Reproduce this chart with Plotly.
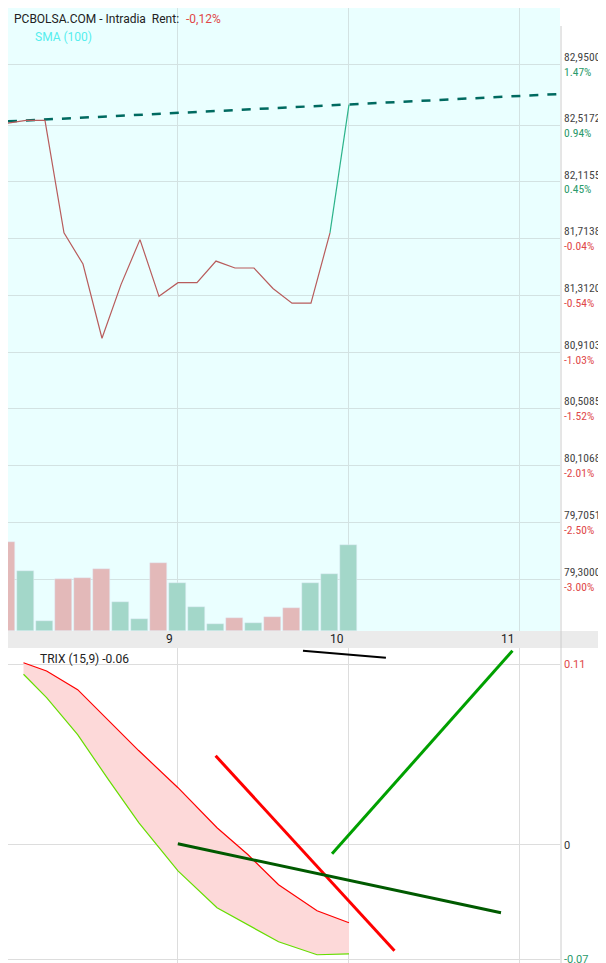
import plotly.graph_objects as go

# --- data (time in hours) ---
bar_times = [8 + i / 9 for i in range(19)]
price = [82.531, 82.552, 82.552, 81.755, 81.534, 81.008, 81.388, 81.707, 81.305, 81.402,
         81.402, 81.555, 81.506, 81.506, 81.361, 81.257, 81.257, 81.755, 82.663]
volume = [89, 60, 10, 52, 53, 62, 29, 12, 68, 48, 24, 7, 13, 8, 14, 23, 48, 57, 86]
vol_up = [0, 1, 1, 0, 0, 0, 1, 1, 0, 1, 1, 1, 0, 1, 0, 0, 1, 1, 1]
sma_x = [8.006, 11.234]
sma_y = [82.545, 82.739]

price_ticks = [82.95, 82.5172, 82.1155, 81.7138, 81.3120, 80.9103, 80.5085, 80.1068, 79.7051, 79.30]
pct_ticks = ["1.47%", "0.94%", "0.45%", "-0.04%", "-0.54%", "-1.03%", "-1.52%", "-2.01%", "-2.50%", "-3.00%"]

trix_min = [5.8, 13.9, 24.8, 35.6, 46.3, 60, 73.7, 84.6, 95.3, 108.8, 120]
trix = [0.111, 0.106, 0.0946, 0.0756, 0.0573, 0.0348, 0.0104, -0.0061, -0.0244, -0.0403, -0.0476]
trix_signal = [0.104, 0.0897, 0.0671, 0.0397, 0.0134, -0.0159, -0.0384, -0.0488, -0.0592, -0.0671, -0.0665]

# drawn trend lines: (x0, x1) hours, (y0, y1) trix units, colour, width
trend_lines = [
    ([9.731, 10.216], [0.1183, 0.114], "black", 2),
    ([9.220, 10.266], [0.0543, -0.0647], "#ff0000", 3),
    ([9.901, 10.956], [-0.0055, 0.1183], "#00a000", 3),
    ([8.999, 10.889], [0.0006, -0.0415], "#005a00", 3),
]

W, H = 606, 963
xr = [8.006, 11.234]
xdom = [0, 552 / W]
top_dom = [1 - 623 / H, 1]
bot_dom = [0, 1 - 640 / H]

fig = go.Figure()

# volume bars
fig.add_trace(go.Bar(
    x=bar_times, y=volume, width=17 / 171,
    marker_color=["#a3d7c9" if u else "#e3b9b9" for u in vol_up],
    yaxis="y3", xaxis="x", showlegend=False))

# SMA
fig.add_trace(go.Scatter(x=sma_x, y=sma_y, mode="lines",
                         line=dict(color="#006a60", width=2.5, dash="dash"),
                         xaxis="x", yaxis="y", showlegend=False))
# price line
fig.add_trace(go.Scatter(x=bar_times[:18], y=price[:18], mode="lines",
                         line=dict(color="#b85c5c", width=1.2), xaxis="x", yaxis="y", showlegend=False))
fig.add_trace(go.Scatter(x=bar_times[17:], y=price[17:], mode="lines",
                         line=dict(color="#2bb38a", width=1.2), xaxis="x", yaxis="y", showlegend=False))

# TRIX
tx = [8 + m / 60 for m in trix_min]
fig.add_trace(go.Scatter(x=tx, y=trix_signal, mode="lines", line=dict(color="#66dd00", width=1.2),
                         xaxis="x2", yaxis="y2", showlegend=False))
fig.add_trace(go.Scatter(x=tx, y=trix, mode="lines", line=dict(color="#ff0000", width=1.2),
                         fill="tonexty", fillcolor="#fdd9d9", xaxis="x2", yaxis="y2", showlegend=False))
for xs, ys, c, w in trend_lines:
    fig.add_trace(go.Scatter(x=xs, y=ys, mode="lines", line=dict(color=c, width=w),
                             xaxis="x2", yaxis="y2", showlegend=False, cliponaxis=False))

ticktext = []
for p, pc in zip(price_ticks, pct_ticks):
    col = "#2a9a6a" if not pc.startswith("-") else "#e04848"
    ptxt = f"{p:.4f}".replace(".", ",")
    ticktext.append(f"{ptxt}<br><span style='color:{col}'>{pc}</span>")

grid = "#d3e2e2"
fig.update_layout(
    width=W, height=H, margin=dict(l=0, r=0, t=0, b=0),
    paper_bgcolor="white", plot_bgcolor="rgba(0,0,0,0)",
    font=dict(family="Roboto", size=12, color="#333"),
    bargap=0,
    xaxis=dict(domain=xdom, range=xr, anchor="y", tickvals=[9, 10, 11], showticklabels=False,
               showgrid=True, gridcolor=grid, zeroline=False, automargin=False),
    yaxis=dict(domain=top_dom, range=[78.934, 83.348], side="right", anchor="x",
               tickvals=price_ticks, ticktext=ticktext, showgrid=True, gridcolor=grid,
               zeroline=False, ticks="", ticklabelstandoff=3, automargin=False,
               tickfont=dict(family="Roboto Condensed, Roboto", size=11.5, color="#444")),
    yaxis3=dict(overlaying="y", range=[0, 623], visible=False, anchor="x"),
    xaxis2=dict(domain=xdom, range=xr, anchor="y2", tickvals=[9, 10, 11], showticklabels=False,
                showgrid=True, gridcolor="#dddddd", zeroline=False, automargin=False),
    yaxis2=dict(domain=bot_dom, range=[-0.077, 0.120], side="right", anchor="x2",
                tickvals=[0.11, 0, -0.07], ticktext=["<span style='color:#e04848'>0.11</span>", "0",
                                                    "<span style='color:#2a9a6a'>-0.07</span>"],
                showgrid=True, gridcolor="#dddddd", zeroline=False, automargin=False,
                ticklabelstandoff=3, tickfont=dict(size=11)),
    shapes=[
        dict(type="rect", xref="paper", yref="paper", x0=0, x1=552 / W, y0=top_dom[0], y1=1,
             fillcolor="#eaffff", line_width=0, layer="below"),
        dict(type="rect", xref="paper", yref="paper", x0=0, x1=1, y0=bot_dom[1], y1=top_dom[0],
             fillcolor="#ebebeb", line_width=0, layer="above"),
        dict(type="line", xref="paper", yref="paper", x0=553 / W, x1=553 / W, y0=0, y1=1 - 18 / H,
             line=dict(color="#cccccc", width=1)),
    ],
    annotations=[
        dict(text="PCBOLSA.COM - Intradia  Rent:", x=4 / W, y=1 - 2 / H, xref="paper", yref="paper",
             xanchor="left", yanchor="top", showarrow=False, font=dict(size=12, color="#222")),
        dict(text="-0,12%", x=176 / W, y=1 - 2 / H, xref="paper", yref="paper",
             xanchor="left", yanchor="top", showarrow=False, font=dict(size=12, color="#e04848")),
        dict(text="SMA (100)", x=25 / W, y=1 - 20 / H, xref="paper", yref="paper",
             xanchor="left", yanchor="top", showarrow=False, font=dict(size=12, color="#55eeee")),
        dict(text="TRIX (15,9) -0.06", x=30 / W, y=1 - 642 / H, xref="paper", yref="paper",
             xanchor="left", yanchor="top", showarrow=False, font=dict(size=12, color="#222")),
    ] + [
        dict(text=str(h), x=h - 0.02, y=1 - 631 / H, xref="x", yref="paper", xanchor="right",
             yanchor="middle", showarrow=False, font=dict(size=12, color="#222"))
        for h in [9, 10, 11]
    ],
)

fig.write_html("out.html")
